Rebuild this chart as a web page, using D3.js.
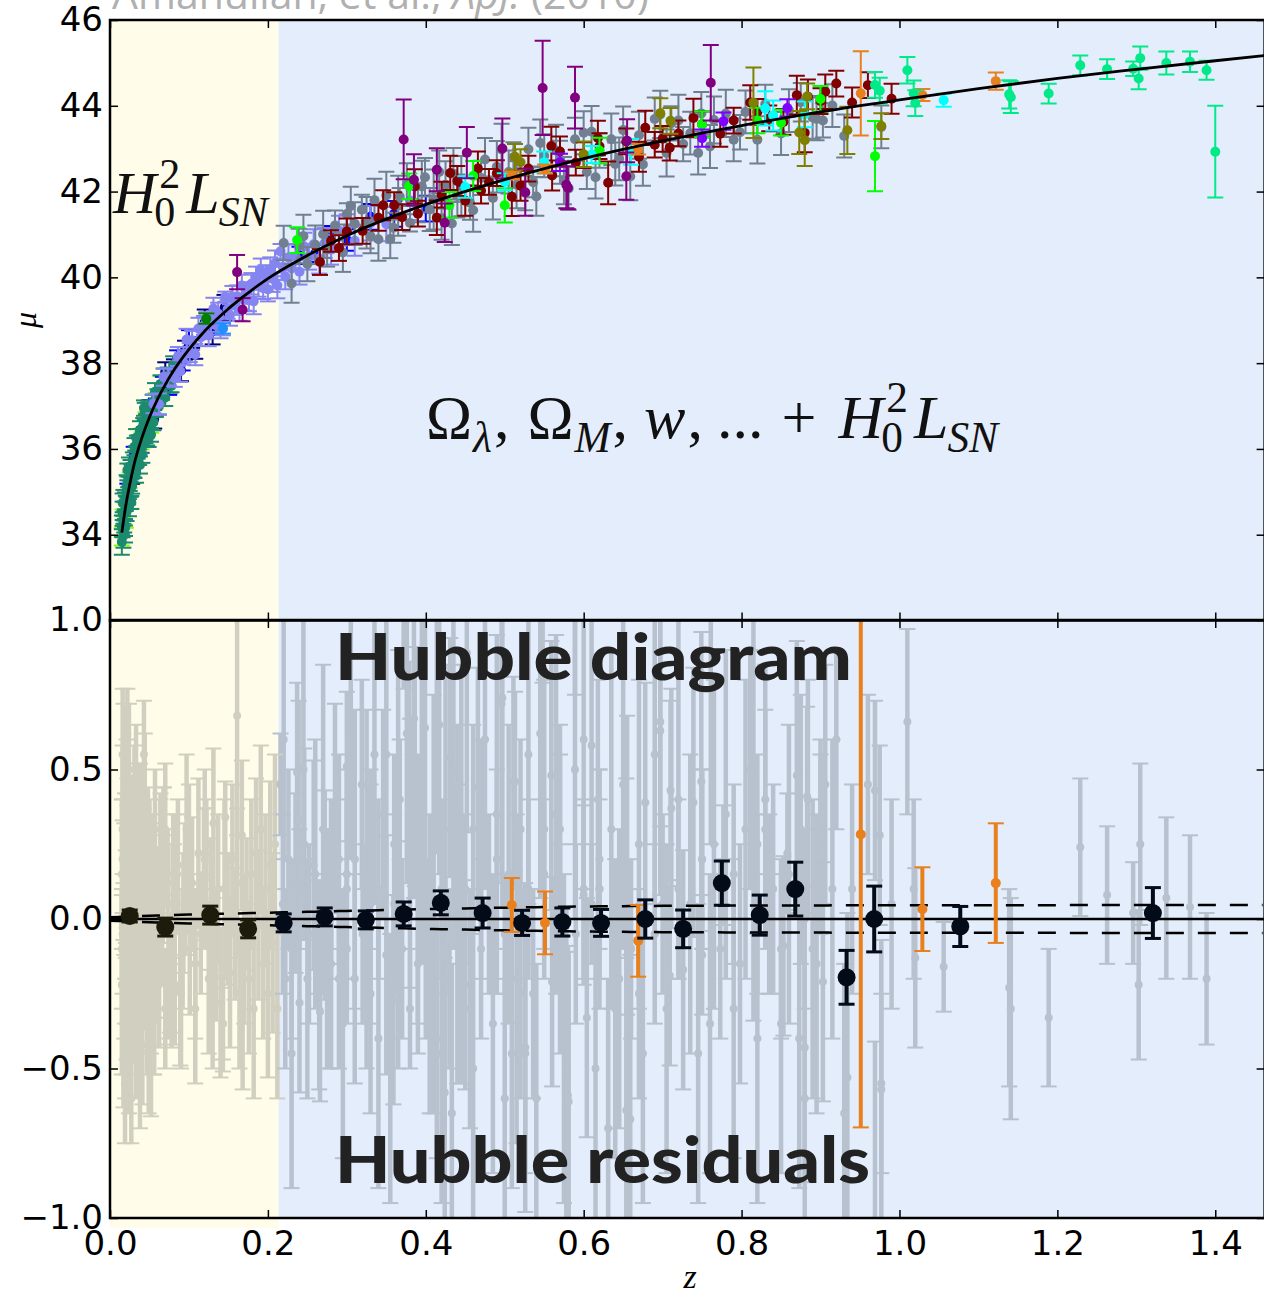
<!DOCTYPE html>
<html><head><meta charset="utf-8">
<script src="https://cdn.jsdelivr.net/npm/d3@7"></script>
<style>body{margin:0;background:#fff}svg{display:block}</style>
</head><body><div id="chart"></div>
<script>
// ---------------- DATA ----------------
const xTicks = [0.0, 0.2, 0.4, 0.6, 0.8, 1.0, 1.2, 1.4];
const muTicks = [34, 36, 38, 40, 42, 44, 46];
const resTicks = [-1.0, -0.5, 0.0, 0.5, 1.0];

// best-fit cosmology curve (distance modulus vs redshift)
const modelZ  = [0.015, 0.02, 0.025, 0.03, 0.04, 0.05, 0.06, 0.07, 0.08, 0.1, 0.12, 0.15, 0.2, 0.25, 0.3, 0.4, 0.5, 0.6, 0.7, 0.8, 0.9, 1.0, 1.1, 1.2, 1.3, 1.4, 1.5];
const modelMu = [34.05, 34.68, 35.17, 35.60, 36.24, 36.74, 37.15, 37.50, 37.81, 38.32, 38.75, 39.27, 39.97, 40.51, 40.97, 41.70, 42.28, 42.77, 43.18, 43.54, 43.86, 44.14, 44.40, 44.64, 44.85, 45.05, 45.24];

// systematic band around zero residual
const bandZ    = [0.0, 0.1, 0.2, 0.3, 0.4, 0.5, 0.6, 0.7, 0.8, 1.0, 1.5];
const bandHalf = [0.006, 0.015, 0.021, 0.027, 0.033, 0.038, 0.042, 0.044, 0.045, 0.046, 0.047];

// binned residuals
const binZ   = [0.025, 0.070, 0.127, 0.175, 0.220, 0.272, 0.324, 0.372, 0.419, 0.472, 0.522, 0.573, 0.622, 0.678, 0.726, 0.775, 0.823, 0.868, 0.933, 0.968, 1.077, 1.321];
const binRes = [0.010, -0.027, 0.013, -0.033, -0.013, 0.007, -0.003, 0.017, 0.054, 0.020, -0.013, -0.010, -0.013, 0.000, -0.033, 0.120, 0.013, 0.100, -0.195, 0.000, -0.025, 0.020];
const binErr = [0.02, 0.03, 0.03, 0.03, 0.03, 0.03, 0.03, 0.04, 0.04, 0.05, 0.042, 0.047, 0.045, 0.064, 0.063, 0.074, 0.067, 0.09, 0.09, 0.11, 0.067, 0.085];

// supernova samples: [z, Hubble residual, error]
const teal = [
 [0.015,0.15,0.25],[0.015,-0.22,0.3],[0.016,0.3,0.28],[0.016,-0.05,0.2],[0.017,0.42,0.3],[0.017,-0.35,0.28],[0.018,0.1,0.22],[0.018,-0.15,0.25],[0.019,0.22,0.2],[0.019,-0.4,0.2],
 [0.020,0.05,0.18],[0.021,0.35,0.25],[0.021,-0.25,0.22],[0.022,0.18,0.2],[0.023,-0.08,0.2],[0.024,0.5,0.22],[0.024,-0.45,0.2],[0.025,0.02,0.17],[0.026,0.28,0.2],[0.026,-0.2,0.18],
 [0.027,0.12,0.17],[0.028,-0.3,0.18],[0.029,0.2,0.2],[0.030,-0.1,0.16],[0.031,0.38,0.2],[0.031,-0.18,0.17],[0.032,0.06,0.16],[0.033,-0.38,0.22],[0.034,0.25,0.18],[0.035,-0.02,0.15],
 [0.036,0.15,0.16],[0.037,-0.26,0.18],[0.038,0.32,0.2],[0.039,-0.12,0.16],[0.040,0.08,0.15],[0.041,-0.42,0.2],[0.042,0.2,0.17],[0.043,-0.05,0.16],[0.044,0.42,0.2],[0.045,-0.2,0.17],
 [0.046,0.1,0.15],[0.047,-0.32,0.2],[0.048,0.26,0.18],[0.050,-0.1,0.16],[0.051,0.05,0.15],[0.052,-0.5,0.16],[0.054,0.18,0.17],[0.055,-0.34,0.18],[0.057,0.3,0.2],[0.058,-0.15,0.18],
 [0.060,0.08,0.16],[0.062,-0.22,0.2],[0.064,0.22,0.2],[0.066,-0.05,0.17],[0.068,0.24,0.2],[0.070,-0.3,0.2],[0.073,0.12,0.18],[0.076,-0.18,0.2],[0.078,-0.28,0.15],[0.080,0.15,0.2],
 [0.016,0.55,0.22],[0.019,-0.55,0.2],[0.022,0.62,0.15],[0.027,-0.6,0.15],[0.033,0.45,0.2],[0.038,-0.5,0.2],[0.043,0.55,0.18],[0.049,-0.45,0.2]
];
const lime = [[0.015,-0.1,0.2],[0.016,0.2,0.2],[0.02,-0.3,0.22],[0.025,0.1,0.18],[0.03,-0.2,0.2],[0.035,0.3,0.22],[0.04,-0.05,0.2],[0.045,0.15,0.2],[0.052,-0.25,0.2],[0.058,0.05,0.18],[0.064,0.2,0.2]];
const navy = [[0.028,-0.05,0.2],[0.046,0.05,0.2],[0.056,-0.3,0.22],[0.07,0.3,0.22],[0.081,0.05,0.2],[0.09,-0.25,0.25],[0.095,0.1,0.22],[0.108,-0.15,0.25],[0.12,0.2,0.3],[0.13,-0.2,0.3],[0.145,0.1,0.3]];
const blue = [[0.022,0.1,0.2],[0.03,0.25,0.2],[0.04,-0.15,0.18],[0.05,0.2,0.2],[0.058,-0.1,0.2],[0.067,0.1,0.18],[0.075,-0.2,0.2],[0.085,0.15,0.2],[0.092,-0.1,0.2],[0.1,0.2,0.25],
 [0.24,0.1,0.2],[0.26,-0.05,0.2],[0.28,0.15,0.25],[0.3,-0.1,0.25],[0.33,0.2,0.3],[0.36,0.05,0.3],[0.4,-0.1,0.3]];
const sdss = [
 [0.055,0.1,0.22],[0.062,-0.18,0.25],[0.068,0.24,0.2],[0.074,0.05,0.2],[0.082,-0.22,0.2],[0.086,0.18,0.22],[0.089,-0.24,0.25],[0.093,0.02,0.2],[0.097,0.3,0.25],[0.101,-0.1,0.22],
 [0.104,0.12,0.22],[0.108,-0.3,0.25],[0.112,0.22,0.25],[0.115,-0.05,0.2],[0.119,0.15,0.22],[0.122,0.22,0.18],[0.125,-0.2,0.25],[0.128,0.05,0.22],[0.131,0.32,0.25],[0.134,-0.12,0.22],
 [0.137,0.1,0.25],[0.14,-0.28,0.25],[0.143,-0.35,0.16],[0.146,0.34,0.12],[0.149,0.0,0.22],[0.152,-0.18,0.25],[0.155,0.2,0.25],[0.158,-0.05,0.22],[0.161,0.12,0.25],[0.164,-0.25,0.25],
 [0.167,0.28,0.25],[0.17,-0.1,0.25],[0.173,0.05,0.22],[0.176,-0.2,0.25],[0.179,0.15,0.25],[0.182,-0.3,0.3],[0.185,0.22,0.25],[0.188,-0.02,0.25],[0.191,0.3,0.28],[0.194,-0.15,0.25],
 [0.197,0.1,0.25],[0.2,-0.25,0.28],[0.203,0.18,0.28],[0.206,-0.08,0.3],[0.209,0.25,0.3],[0.212,-0.3,0.3],[0.216,0.45,0.17],[0.219,0.05,0.3],[0.222,-0.2,0.3],[0.226,0.2,0.3],
 [0.23,-0.1,0.3],[0.235,0.12,0.3],[0.24,-0.28,0.3],[0.246,0.25,0.32],[0.252,-0.05,0.3],[0.258,0.18,0.35],[0.265,-0.22,0.35],[0.272,0.08,0.35],[0.28,-0.15,0.35],[0.29,0.2,0.35],
 [0.3,0.15,0.35],[0.31,-0.2,0.35],[0.33,0.05,0.4],[0.35,-0.12,0.4],[0.38,0.22,0.45]
];
const forest = [[0.122,0.25,0.12]];
const dodger = [[0.143,-0.35,0.12]];
const gray = [
 [0.22,0.6,0.4],[0.239,0.33,0.4],[0.25,-0.2,0.4],[0.285,0.37,0.35],[0.3,0.51,0.25],[0.319,0.45,0.35],[0.33,-0.25,0.4],[0.359,-0.27,0.35],[0.367,0.4,0.2],[0.376,0.62,0.5],
 [0.38,-0.30,0.2],[0.399,0.64,0.45],[0.417,0.65,0.5],[0.433,-0.65,0.5],[0.456,-0.30,0.4],[0.47,0.2,0.4],[0.496,0.72,0.6],[0.511,0.46,0.35],[0.526,-0.45,0.4],[0.536,-0.25,0.35],
 [0.55,0.3,0.5],[0.581,-0.61,0.5],[0.589,0.5,0.5],[0.604,-0.33,0.4],[0.62,0.1,0.4],[0.64,-0.3,0.5],[0.659,-0.67,0.55],[0.697,0.63,0.55],[0.711,0.37,0.4],[0.726,-0.17,0.4],
 [0.749,0.46,0.5],[0.76,-0.35,0.5],[0.798,-0.15,0.4],[0.903,-0.21,0.4],[0.93,-0.65,0.5],[0.977,-0.57,0.5],
 [0.23,-0.45,0.45],[0.26,0.15,0.45],[0.275,-0.1,0.4],[0.31,0.2,0.5],[0.34,-0.4,0.5],[0.35,0.55,0.55],[0.39,0.1,0.45],[0.405,-0.15,0.5],[0.425,0.3,0.55],[0.44,-0.05,0.5],
 [0.485,-0.35,0.5],[0.505,0.15,0.5],[0.545,0.62,0.55],[0.57,0.05,0.5],[0.61,0.58,0.6],[0.645,-0.2,0.5],[0.67,0.25,0.55],[0.735,0.05,0.5],[0.78,0.35,0.55],[0.82,-0.4,0.55],
 [0.86,0.15,0.5],[0.895,-0.15,0.5],
 [0.245,0.5,0.5],[0.27,0.3,0.55],[0.295,-0.35,0.45],[0.305,0.65,0.45],[0.325,0.1,0.6],[0.335,0.55,0.5],[0.355,-0.5,0.45],[0.365,0.2,0.7],[0.395,0.45,0.6],[0.41,0.05,0.7],
 [0.42,-0.45,0.5],[0.435,0.5,0.6],[0.445,0.15,0.7],[0.46,-0.5,0.5],[0.475,0.6,0.5],[0.49,0.35,0.6],[0.515,-0.2,0.55],[0.53,0.55,0.5],[0.54,-0.6,0.45],[0.565,0.35,0.6],
 [0.575,-0.4,0.55],[0.6,0.6,0.5],[0.615,-0.5,0.5],[0.635,0.3,0.6],[0.65,0.45,0.55],[0.675,-0.45,0.5],[0.69,0.55,0.5],[0.705,-0.3,0.55],[0.72,0.4,0.6],[0.745,-0.45,0.5],
 [0.765,0.25,0.55],[0.79,-0.3,0.5],[0.805,0.3,0.5],[0.83,0.4,0.45],[0.85,-0.35,0.5],[0.875,0.3,0.45],[0.89,-0.1,0.5],[0.915,0.1,0.5]
];
const darkred = [
 [0.266,-0.31,0.3],[0.3,0.1,0.3],[0.32,-0.05,0.3],[0.346,0.35,0.35],[0.37,-0.1,0.3],[0.386,0.51,0.4],[0.414,-0.40,0.4],[0.431,0.54,0.4],[0.45,-0.22,0.35],[0.466,0.44,0.4],
 [0.48,0.05,0.3],[0.509,-0.45,0.45],[0.53,0.1,0.3],[0.559,0.48,0.45],[0.56,-0.21,0.35],[0.6,0.08,0.3],[0.618,0.4,0.4],[0.631,-0.70,0.5],[0.654,0.17,0.3],[0.678,0.39,0.4],
 [0.69,-0.05,0.3],[0.709,-0.19,0.3],[0.72,0.1,0.3],[0.739,0.39,0.45],[0.75,0.2,0.3],[0.773,-0.10,0.3],[0.79,0.15,0.3],[0.811,0.5,0.4],[0.82,0.25,0.3],[0.835,0.05,0.3],
 [0.853,-0.09,0.3],[0.87,0.48,0.45],[0.88,-0.43,0.45],[0.884,0.4,0.4],[0.9,0.25,0.3],[0.906,0.45,0.4],[0.92,0.6,0.3],[0.94,0.1,0.35],[0.96,0.45,0.3],[0.99,0.05,0.35],
 [0.28,0.05,0.25],[0.29,-0.2,0.3],[0.34,0.1,0.3],[0.36,0.25,0.3],[0.39,-0.15,0.3],[0.42,0.1,0.3],[0.44,0.3,0.35],[0.47,-0.1,0.3],[0.49,0.2,0.3],[0.52,-0.25,0.35],
 [0.57,0.3,0.35],[0.59,-0.05,0.3],[0.62,0.2,0.3],[0.67,-0.25,0.35],[0.7,0.05,0.3]
];
const green = [[0.237,0.49,0.3],[0.379,0.56,0.3],[0.43,-0.2,0.3],[0.46,0.3,0.35],[0.5,-0.6,0.4],[0.62,0.1,0.3],[0.75,0.2,0.3],[0.82,0.05,0.3],[0.85,-0.1,0.3],[0.9,0.3,0.3],[0.969,-1.23,0.82]];
const cyan = [[0.45,0.1,0.25],[0.5,-0.05,0.2],[0.55,0.15,0.25],[0.61,0.05,0.2],[0.66,-0.1,0.3],[0.83,0.3,0.4],[0.84,0.1,0.35],[0.88,0.0,0.3],[1.056,-0.16,0.15]];
const olive = [[0.513,0.46,0.3],[0.52,0.3,0.3],[0.6,0.1,0.3],[0.697,0.66,0.35],[0.71,0.43,0.3],[0.815,0.48,0.82],[0.873,-0.4,0.5],[0.88,-0.6,0.6],[0.883,0.41,0.3],[0.934,-0.53,0.55],[0.977,-0.55,0.3]];
const violet = [[0.57,0.05,0.2],[0.75,-0.12,0.2],[0.777,0.18,0.2],[0.858,0.22,0.2]];
const orange = [[0.509,0.047,0.09],[0.551,-0.013,0.105],[0.669,-0.073,0.12],[0.951,0.283,0.98],[1.029,0.033,0.14],[1.122,0.12,0.2]];
const spring = [[0.969,0.43,0.3],[0.975,0.28,0.3],[1.01,0.66,0.31],[1.018,0.1,0.3],[1.02,-0.13,0.3],[1.139,-0.23,0.33],[1.141,-0.30,0.37],[1.189,-0.33,0.23],[1.229,0.24,0.23],[1.263,0.08,0.23],
 [1.296,0.02,0.17],[1.303,-0.22,0.25],[1.305,0.25,0.27],[1.338,0.07,0.27],[1.368,0.04,0.24],[1.389,-0.2,0.22],[1.4,-2.12,1.07]];
const purple = [[0.161,0.68,0.4],[0.168,-0.3,0.27],[0.372,1.70,0.93],[0.385,0.67,0.6],[0.414,0.72,0.5],[0.424,-0.58,0.45],[0.452,0.89,0.6],[0.497,0.74,0.7],[0.526,-0.43,0.55],[0.548,1.89,1.1],
 [0.578,-0.51,0.55],[0.58,-0.59,0.5],[0.589,1.47,0.72],[0.654,-0.64,0.55],[0.655,0.18,0.5],[0.761,1.13,0.88]];

// ---------------- STYLE ----------------
const sampleOrder = ["lime","navy","blue","teal","sdss","forest","dodger","gray","darkred","green","cyan","olive","violet","orange","spring","purple"];
const sampleData = {teal,lime,navy,blue,sdss,forest,dodger,gray,darkred,green,cyan,olive,violet,orange,spring,purple};
const sampleColor = {teal:"#1b8a6f",lime:"#80ff00",navy:"#000080",blue:"#0000ff",sdss:"#8585f2",forest:"#008000",dodger:"#1e90ff",
  gray:"#708090",darkred:"#800000",green:"#00ff00",cyan:"#00ffff",olive:"#808000",violet:"#7f00ff",orange:"#e8801e",spring:"#00ea8a",purple:"#800080"};

const W = 1264, H = 1292;
const L = 110, R = 1264.6, T = 20, MID = 620.5, B = 1218;
const zSplit = 0.2135;

const svg = d3.select("#chart").append("svg").attr("width", W).attr("height", H)
  .attr("font-family", "'DejaVu Sans', sans-serif");

const x = d3.scaleLinear().domain([0, 1.4625]).range([L, R]);
const yTop = d3.scaleLinear().domain([32, 46]).range([MID, T]);
const yRes = d3.scaleLinear().domain([-1, 1]).range([B, 620]);
const logModel = d3.scaleLinear().domain(modelZ.map(Math.log10)).range(modelMu);
const model = z => logModel(Math.log10(z));
const band = d3.scaleLinear().domain(bandZ).range(bandHalf);

// backgrounds
svg.append("rect").attr("x", x(0)).attr("y", T).attr("width", x(zSplit) - x(0)).attr("height", 1228 - T).attr("fill", "#fffdea");
svg.append("rect").attr("x", x(zSplit)).attr("y", T).attr("width", R - x(zSplit)).attr("height", B - T).attr("fill", "#e4edfc");

// title (partially cut)
const title = svg.append("text").attr("x", 112).attr("y", 9).attr("font-family", "'Open Sans', sans-serif")
  .attr("font-size", 41).attr("fill", "#b0b0b0");
title.append("tspan").text("Amanullah, et al., ");
title.append("tspan").attr("font-style", "italic").text("ApJ.");
title.append("tspan").text(" (2010)");

const defs = svg.append("defs");
defs.append("clipPath").attr("id", "clipTop").append("rect").attr("x", L).attr("y", T).attr("width", R - L).attr("height", MID - T);
defs.append("clipPath").attr("id", "clipBot").append("rect").attr("x", L).attr("y", 620).attr("width", R - L).attr("height", B - 620);

function errorBars(g, data, cx, yLo, yHi, yMid, color, o) {
  const grp = g.append("g");
  grp.selectAll("line.v").data(data).join("line").attr("class", "v")
    .attr("x1", cx).attr("x2", cx).attr("y1", yLo).attr("y2", yHi)
    .attr("stroke", color).attr("stroke-width", o.bw);
  [yLo, yHi].forEach(yy => {
    grp.selectAll(null).data(data).join("line")
      .attr("x1", d => cx(d) - o.cap / 2).attr("x2", d => cx(d) + o.cap / 2)
      .attr("y1", yy).attr("y2", yy).attr("stroke", color).attr("stroke-width", o.cw);
  });
  grp.selectAll("circle").data(data).join("circle")
    .attr("cx", cx).attr("cy", yMid).attr("r", o.r).attr("fill", color);
}

// ---------------- TOP PANEL ----------------
const gTop = svg.append("g").attr("clip-path", "url(#clipTop)");
sampleOrder.forEach(name => {
  const data = sampleData[name];
  const mu = d => model(d[0]) + d[1];
  errorBars(gTop, data, d => x(d[0]), d => yTop(mu(d) - d[2]), d => yTop(mu(d) + d[2]), d => yTop(mu(d)),
    sampleColor[name], {bw: 2, cw: 2, cap: 16, r: 5});
});
gTop.append("path").datum(modelZ.map((z, i) => [z, modelMu[i]]))
  .attr("d", d3.line().x(d => x(d[0])).y(d => yTop(d[1])).curve(d3.curveMonotoneX))
  .attr("fill", "none").attr("stroke", "#000").attr("stroke-width", 2.8);

// ---------------- BOTTOM PANEL ----------------
const gBot = svg.append("g").attr("clip-path", "url(#clipBot)");
const grayCol = d => d[0] < zSplit ? "#d1cfc0" : "#b8c1ce";
const allGray = sampleOrder.filter(n => n !== "orange").flatMap(n => sampleData[n]);
errorBars(gBot, allGray, d => x(d[0]), d => yRes(d[1] - d[2]), d => yRes(d[1] + d[2]), d => yRes(d[1]),
  grayCol, {bw: 4.5, cw: 2, cap: 16, r: 4});

// zero line and systematic band
gBot.append("line").attr("x1", L).attr("x2", R).attr("y1", yRes(0)).attr("y2", yRes(0)).attr("stroke", "#000").attr("stroke-width", 2.5);
const bandPts = d3.range(0, 1.47, 0.01);
[1, -1].forEach(s => {
  gBot.append("path").datum(bandPts)
    .attr("d", d3.line().x(z => x(z)).y(z => yRes(s * band(z))))
    .attr("fill", "none").attr("stroke", "#000").attr("stroke-width", 2.5).attr("stroke-dasharray", "18,14");
});

errorBars(gBot, orange, d => x(d[0]), d => yRes(d[1] - d[2]), d => yRes(d[1] + d[2]), d => yRes(d[1]),
  sampleColor.orange, {bw: 4, cw: 2, cap: 16, r: 5});

const bins = binZ.map((z, i) => [z, binRes[i], binErr[i]]);
const binCol = d => d[0] < zSplit ? "#1c1b0c" : "#030a18";
errorBars(gBot, bins, d => x(d[0]), d => yRes(d[1] - d[2]), d => yRes(d[1] + d[2]), d => yRes(d[1]),
  binCol, {bw: 4, cw: 3, cap: 16, r: 9});

// ---------------- TEXT ANNOTATIONS ----------------
function mathText(x0, y0, size, parts) {
  const g = svg.append("g").attr("font-family", "'Liberation Serif', 'DejaVu Serif', serif").attr("fill", "#111");
  let cx = x0;
  parts.forEach(p => {
    if (p.t !== undefined) {
      const t = g.append("text").attr("x", cx).attr("y", y0).attr("font-size", size)
        .attr("font-style", p.it ? "italic" : "normal").text(p.t);
      cx += t.node().getComputedTextLength() + (p.gap || 0);
    } else {
      let w = 0;
      if (p.sup) {
        const t = g.append("text").attr("x", cx + (p.supDx || 0)).attr("y", y0 - size * 0.42).attr("font-size", size * 0.7)
          .attr("font-style", p.supIt ? "italic" : "normal").text(p.sup);
        w = Math.max(w, t.node().getComputedTextLength() + (p.supDx || 0));
      }
      if (p.sub) {
        const t = g.append("text").attr("x", cx + (p.subDx || 0)).attr("y", y0 + size * 0.22).attr("font-size", size * 0.7)
          .attr("font-style", p.subIt ? "italic" : "normal").text(p.sub);
        w = Math.max(w, t.node().getComputedTextLength() + (p.subDx || 0));
      }
      cx += w + (p.gap || 0);
    }
  });
}
mathText(113, 213, 60, [
  {t: "H", it: true, gap: 1}, {sup: "2", sub: "0", supDx: 2, subDx: -3, gap: 6}, {t: "L", it: true, gap: 1}, {sub: "SN", subIt: true, subDx: -2}
]);
mathText(426, 438, 62, [
  {t: "Ω", gap: 1}, {sub: "λ", subIt: true, gap: 2}, {t: ",", gap: 18}, {t: "Ω", gap: 1}, {sub: "M", subIt: true, gap: 2}, {t: ",", gap: 16},
  {t: "w", it: true, gap: 2}, {t: ",", gap: 14}, {t: "...", gap: 18}, {t: "+", gap: 22}, {t: "H", it: true, gap: 1},
  {sup: "2", sub: "0", supDx: 2, subDx: -3, gap: 6}, {t: "L", it: true, gap: 1}, {sub: "SN", subIt: true, subDx: -2}
]);

svg.append("text").attr("x", 335).attr("y", 680).attr("font-family", "Lato, sans-serif").attr("font-weight", 900)
  .attr("font-size", 64).attr("fill", "#222").attr("textLength", 517).attr("lengthAdjust", "spacingAndGlyphs").text("Hubble diagram");
svg.append("text").attr("x", 335).attr("y", 1183).attr("font-family", "Lato, sans-serif").attr("font-weight", 900)
  .attr("font-size", 64).attr("fill", "#222").attr("textLength", 535).attr("lengthAdjust", "spacingAndGlyphs").text("Hubble residuals");

// ---------------- AXES ----------------
function styleAxis(g) {
  g.select(".domain").remove();
  g.selectAll(".tick line").attr("stroke", "#000").attr("stroke-width", 1.5);
  g.selectAll(".tick text").attr("font-size", 34).attr("font-family", "'DejaVu Sans', sans-serif").attr("fill", "#000");
}
const fmt1 = d3.format(".1f");
svg.append("g").attr("transform", `translate(${L},0)`).call(d3.axisLeft(yTop).tickValues(muTicks).tickSize(-8).tickPadding(7).tickFormat(d3.format("d"))).call(styleAxis);
svg.append("g").attr("transform", `translate(${R},0)`).call(d3.axisRight(yTop).tickValues(muTicks).tickSize(-8).tickFormat("")).call(styleAxis);
svg.append("g").attr("transform", `translate(0,${T})`).call(d3.axisTop(x).tickValues(xTicks).tickSize(-8).tickFormat("")).call(styleAxis);
svg.append("g").attr("transform", `translate(0,${MID})`).call(d3.axisBottom(x).tickValues(xTicks).tickSize(-8).tickFormat("")).call(styleAxis);
svg.append("g").attr("transform", `translate(0,620)`).call(d3.axisTop(x).tickValues(xTicks).tickSize(-8).tickFormat("")).call(styleAxis);
svg.append("g").attr("transform", `translate(${L},0)`).call(d3.axisLeft(yRes).tickValues(resTicks).tickSize(-8).tickPadding(7).tickFormat(fmt1)).call(styleAxis);
svg.append("g").attr("transform", `translate(${R},0)`).call(d3.axisRight(yRes).tickValues(resTicks).tickSize(-8).tickFormat("")).call(styleAxis);
svg.append("g").attr("transform", `translate(0,${B})`).call(d3.axisBottom(x).tickValues(xTicks).tickSize(-8).tickPadding(13).tickFormat(fmt1)).call(styleAxis);

// spines
svg.append("rect").attr("x", L).attr("y", T).attr("width", R - L).attr("height", MID - T).attr("fill", "none").attr("stroke", "#000").attr("stroke-width", 2.5);
svg.append("rect").attr("x", L).attr("y", 620).attr("width", R - L).attr("height", B - 620).attr("fill", "none").attr("stroke", "#000").attr("stroke-width", 2.5);

// axis labels
svg.append("text").attr("transform", "translate(36,320) rotate(-90)").attr("text-anchor", "middle")
  .attr("font-family", "'Liberation Serif', serif").attr("font-style", "italic").attr("font-size", 32).text("μ");
svg.append("text").attr("x", 690).attr("y", 1288).attr("text-anchor", "middle")
  .attr("font-family", "'Liberation Serif', serif").attr("font-style", "italic").attr("font-size", 34).text("z");
</script>
</body></html>
